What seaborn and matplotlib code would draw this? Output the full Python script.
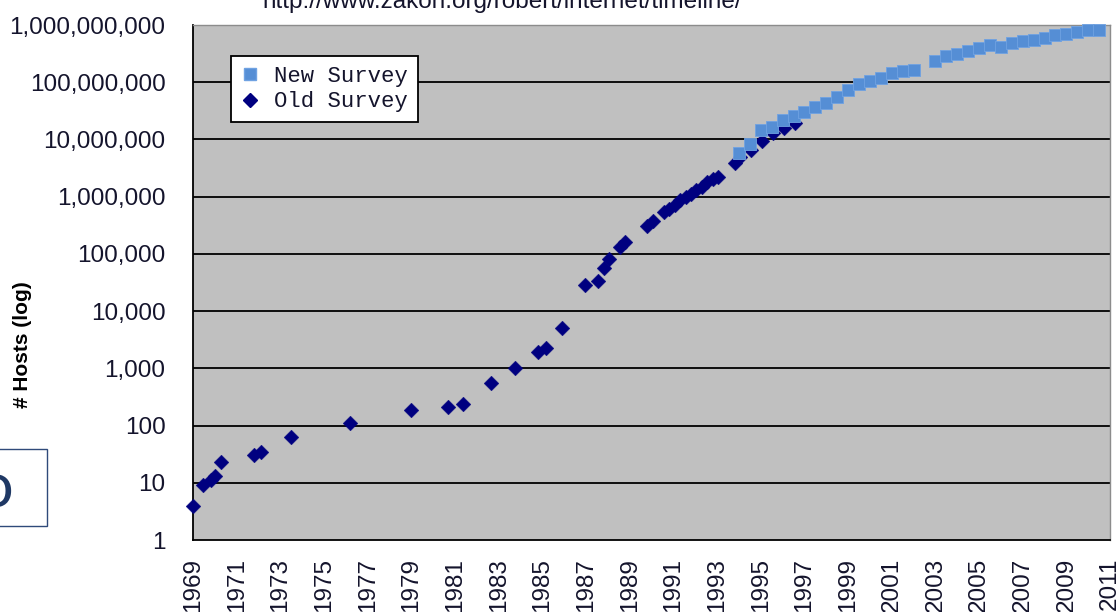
import matplotlib
matplotlib.use("Agg")
import matplotlib.pyplot as plt
from matplotlib.lines import Line2D
from matplotlib.patches import Rectangle
import pandas as pd
import seaborn as sns

# Old survey: position on the chart's year axis and host count
old_years = [1969.0, 1969.46, 1969.8, 1970.0, 1970.28, 1971.8, 1972.1, 1973.47,
             1976.2, 1978.97, 1980.68, 1981.36, 1982.66, 1983.76, 1984.77,
             1985.15, 1985.91, 1986.93, 1987.54, 1987.8, 1988.05, 1988.55,
             1988.8, 1989.8, 1990.05, 1990.55, 1990.8, 1991.05, 1991.3,
             1991.55, 1991.8, 1992.05, 1992.3, 1992.55, 1992.8, 1993.05,
             1993.8, 1994.05, 1994.55, 1995.05, 1995.55, 1996.05, 1996.55]
old_hosts = [4, 9, 11, 13, 23, 31, 35, 62,
             111, 188, 213, 235, 562, 1024, 1961,
             2308, 5089, 28174, 33000, 56000, 80000, 130000,
             159000, 313000, 376000, 535000, 617000, 727000, 890000,
             992000, 1136000, 1313000, 1486000, 1776000, 2056000, 2217000,
             3864000, 4852000, 6642000, 9472000, 12881000, 16146000, 19540000]

# New survey (adjusted host count)
new_years = [1994.0, 1994.5, 1995.0, 1995.5, 1996.0, 1996.5, 1997.0, 1997.5,
             1998.0, 1998.5, 1999.0, 1999.5, 2000.0, 2000.5, 2001.0, 2001.5,
             2002.0, 2003.0, 2003.5, 2004.0, 2004.5, 2005.0, 2005.5, 2006.0,
             2006.5, 2007.0, 2007.5, 2008.0, 2008.5, 2009.0, 2009.5, 2010.0,
             2010.5]
new_hosts = [5846000, 8200000, 14352000, 16729000, 21819000, 26053000,
             29670000, 36739000, 43230000, 56218000, 72398000, 93048000,
             106000000, 120000000, 145000000, 155000000, 165000000, 231000000,
             285000000, 315000000, 353000000, 392000000, 439000000, 410000000,
             482000000, 520000000, 555000000, 605000000, 660000000, 705000000,
             750000000, 815000000, 820000000]

year_ticks = list(range(1969, 2012, 2))
host_ticks = [1, 10, 100, 1000, 10000, 100000, 1000000, 10000000,
              100000000, 1000000000]
host_labels = ["1", "10", "100", "1,000", "10,000", "100,000", "1,000,000",
               "10,000,000", "100,000,000", "1,000,000,000"]

old_df = pd.DataFrame({"year": old_years, "hosts": old_hosts})
new_df = pd.DataFrame({"year": new_years, "hosts": new_hosts})

sns.set_theme(style="white")
plt.rcParams["font.family"] = ["Liberation Sans", "DejaVu Sans"]

text_color = "#14142c"
navy = "#000080"
light_blue = "#558ED5"

fig = plt.figure(figsize=(11.18, 6.12), dpi=100)
ax = fig.add_axes([0.1729, 0.1176, 0.8200, 0.8415])
ax.set_facecolor("#C0C0C0")

sns.scatterplot(data=old_df, x="year", y="hosts", marker="D", s=56,
                color=navy, edgecolor=navy, linewidth=0.3, ax=ax,
                zorder=3, clip_on=False)
sns.scatterplot(data=new_df, x="year", y="hosts", marker="s", s=68,
                color=light_blue, edgecolor="#6FA2E2", linewidth=0.6, ax=ax,
                zorder=4, clip_on=False)

ax.set_yscale("log")
ax.set_ylim(host_ticks[0], host_ticks[-1])
ax.set_xlim(year_ticks[0], year_ticks[-1])
ax.set_yticks(host_ticks)
ax.set_yticklabels(host_labels)
ax.set_xticks(year_ticks)
ax.set_xticklabels([str(y) for y in year_ticks], rotation=90)
ax.minorticks_off()
ax.set_xlabel("")
ax.set_ylabel("")

# black horizontal gridlines at each decade
for h in host_ticks[1:-1]:
    ax.axhline(h, color="black", lw=1.3, zorder=1)

for side in ["left", "bottom"]:
    ax.spines[side].set_color("black")
    ax.spines[side].set_linewidth(1.3)
for side in ["top", "right"]:
    ax.spines[side].set_color("#8C8C8C")
    ax.spines[side].set_linewidth(1.0)

ax.tick_params(axis="both", direction="out", length=8, width=1.3,
               color="black", labelsize=17.5, labelcolor=text_color)
ax.tick_params(axis="y", pad=12)
ax.tick_params(axis="x", pad=5)

ax.set_ylabel("# Hosts (log)", fontsize=15, fontweight="bold", color="black",
              va="center")
ax.yaxis.set_label_coords(-0.186, 0.379)

handles = [
    Line2D([], [], marker="s", ls="none", color=light_blue, markersize=9,
           markeredgecolor="#6FA2E2"),
    Line2D([], [], marker="D", ls="none", color=navy, markersize=7),
]
leg = ax.legend(handles, ["New Survey", "Old Survey"], loc="upper left",
                bbox_to_anchor=(0.041, 0.940), borderaxespad=0,
                prop={"family": "Liberation Mono", "size": 16},
                frameon=True, fancybox=False, framealpha=1, edgecolor="black",
                borderpad=0.45, labelspacing=0.2, handlelength=0.8,
                handletextpad=0.7)
leg.get_frame().set_linewidth(1.3)
for t in leg.get_texts():
    t.set_color(text_color)

fig.text(0.449, 1 - 8 / 612, "http://www.zakon.org/robert/internet/timeline/",
         ha="center", va="baseline", fontsize=17.5, color=text_color)

# slide overlay box at left
fig.add_artist(Rectangle((-0.01, 0.1405), 0.052, 0.1258,
                         transform=fig.transFigure, facecolor="white",
                         edgecolor="#2F4A7A", lw=1.0))
fig.text(13 / 1118, (612 - 507) / 612, "o", ha="right", va="baseline",
         fontsize=44, color="#1F3864", family=["Lato", "DejaVu Sans"])

fig.savefig("out.png", dpi=100)
